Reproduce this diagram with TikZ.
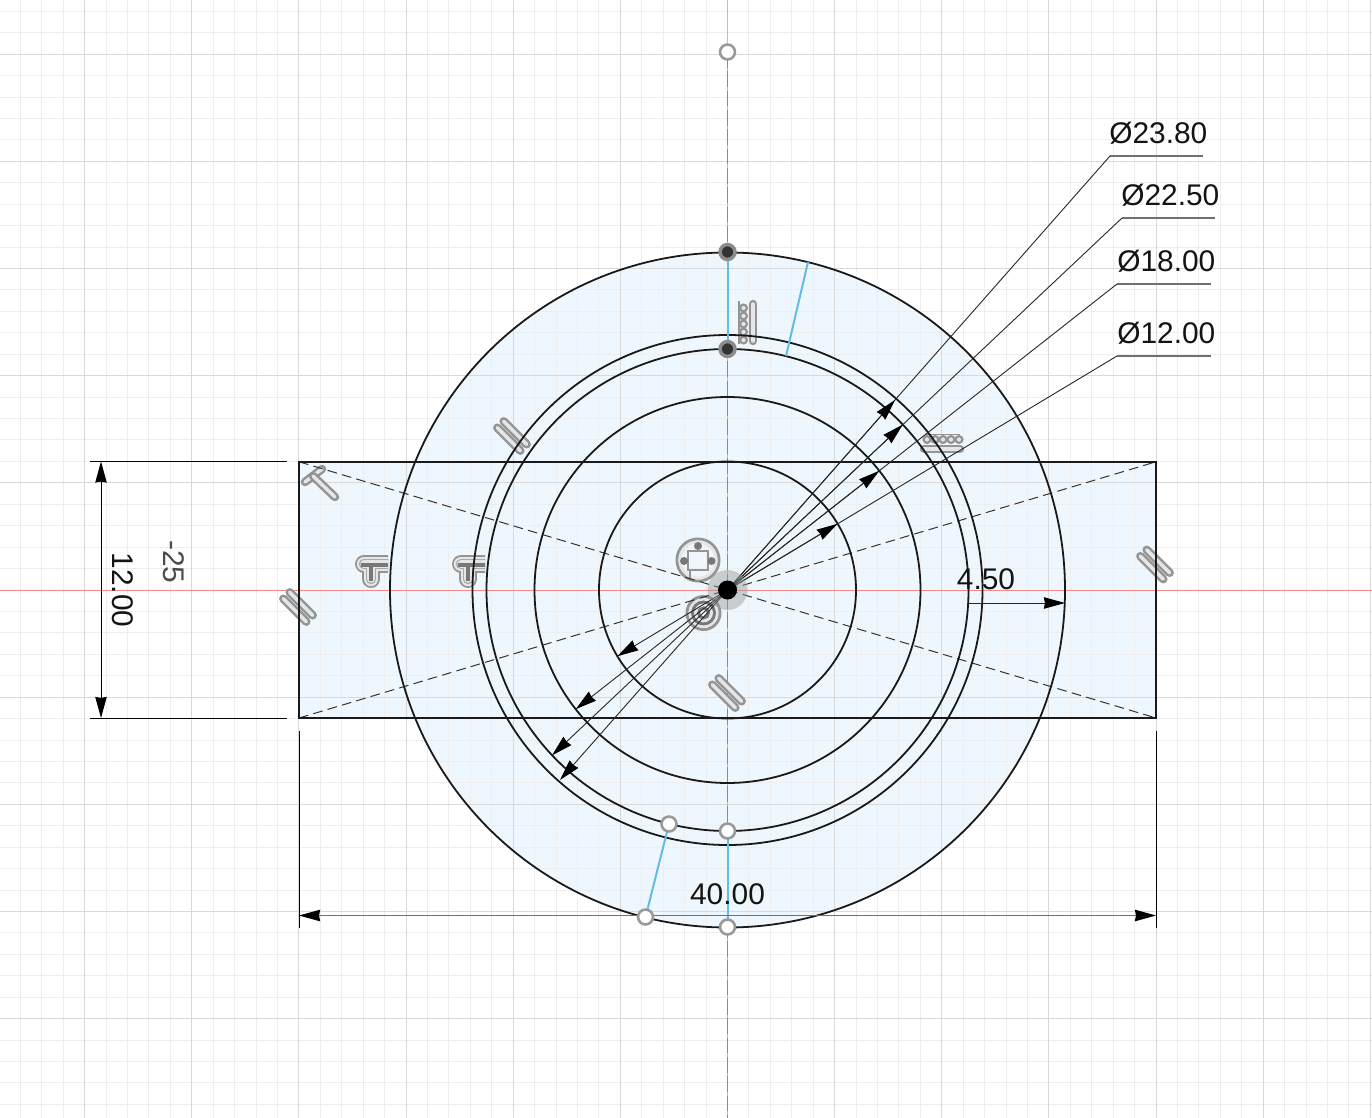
\documentclass[tikz,border=0pt]{standalone}
\usepackage{fontspec}
\setmainfont{Liberation Sans}
\usetikzlibrary{arrows.meta}
\definecolor{sheet}{HTML}{EEF7FD}
\definecolor{gridminor}{HTML}{EEEEEE}
\definecolor{gridmajor}{HTML}{D9D9D9}
\definecolor{axisred}{HTML}{F08A8A}
\definecolor{axisgreen}{HTML}{8FDC9A}
\definecolor{axisbrown}{HTML}{A98A3A}
\definecolor{conblue}{HTML}{62BCE6}
\definecolor{glyphgray}{HTML}{949494}
\definecolor{glyphdark}{HTML}{787878}
\definecolor{glyphlight}{HTML}{E4E6E8}
\definecolor{dimgray}{HTML}{707070}
\tikzset{
  px/.style={line width=#1*0.567pt},
  minorgrid/.style={draw=gridminor,px=1},
  majorgrid/.style={draw=gridmajor,px=1},
  sketch/.style={draw=black!90,px=1.8},
  construct/.style={draw=black!80,px=1,dash pattern=on 5.5pt off 3pt},
  conline/.style={draw=conblue,px=2},
  leader/.style={draw=black!85,px=0.9},
  dimhead/.style={-{Stealth[length=12pt,width=6.5pt,inset=0.6pt,black]}},
  bothhead/.style={{Stealth[length=12pt,width=6.5pt,inset=0.6pt,black]}-{Stealth[length=12pt,width=6.5pt,inset=0.6pt,black]}},
  under/.style={draw=dimgray,px=1.5},
  ext/.style={draw=black,px=1},
  dimtext/.style={font=\fontsize{17}{20}\selectfont,text=black!92,inner sep=0pt},
  gA/.style={draw=glyphgray,px=8.5,line cap=round,line join=round},
  gB/.style={draw=glyphlight,px=3.5,line cap=round,line join=round},
  tA/.style={draw=glyphgray,px=18,line cap=round},
  tB/.style={draw=glyphlight,px=14.5,line cap=round},
  tC/.style={draw=glyphgray!80,px=10.5,line cap=round},
  tD/.style={draw=glyphlight,px=7.5,line cap=round},
  tE/.style={draw=glyphdark,px=4},
  openpt/.style={circle,draw=black!40,px=2.6,fill=white,minimum size=8.5pt,inner sep=0pt},
  darkpt/.style={circle,draw=black!45,px=3.5,fill=black!80,minimum size=8.5pt,inner sep=0pt},
}
\newcommand{\capsule}[1]{\draw[gA] #1; \draw[gB] #1;}
\newcommand{\parglyph}[2]{%
  \capsule{(#1+3.2,#2-3.2) ++(-11.5,-11.5) -- ++(23,23)}%
  \capsule{(#1-3.2,#2+3.2) ++(-11.5,-11.5) -- ++(23,23)}}
\newcommand{\tanglyph}[1]{%
  \begin{scope}
  \clip (#1+350,550) rectangle (#1+388,595);
  \foreach \s in {tA,tB,tC,tD}{
    \draw[\s] (#1+364,564) -- (#1+392,564);
    \draw[\s] (#1+371,564) -- (#1+371,579);
  }
  \draw[tE] (#1+361,565) -- (#1+388,565);
  \draw[tE] (#1+371,565) -- (#1+371,581);
  \end{scope}}
\begin{document}
\begin{tikzpicture}[x=0.02cm,y=-0.02cm]
\useasboundingbox (0,0) rectangle (1372,1118);
\fill[white] (0,0) rectangle (1372,1118);
% sketch profile fill
\coordinate (c) at (727.5,590);
\fill[sheet] (c) circle[radius=337.5];
\fill[sheet] (299,461.8) rectangle (1156,718);
% grid
\foreach \k in {-33,...,30}{\draw[minorgrid] ({727.5+\k*21.43},0) -- ({727.5+\k*21.43},1118);}
\foreach \k in {-27,...,24}{\draw[minorgrid] (0,{590+\k*21.43}) -- (1372,{590+\k*21.43});}
\foreach \k in {-6,-5,-4,-3,-2,-1,1,2,3,4,5,6}{\draw[majorgrid] ({727.5+\k*107.15},0) -- ({727.5+\k*107.15},1118);}
\foreach \k in {-5,-4,-3,-2,-1,1,2,3,4}{\draw[majorgrid] (0,{590+\k*107.15}) -- (1372,{590+\k*107.15});}
% axes
\draw[axisred,px=1] (0,590) -- (1372,590);
\draw[axisgreen,px=1.4] (727.5,0) -- (727.5,1118);
\draw[axisbrown,px=1.3,dash pattern=on 9pt off 2pt] (727.5,52) -- (727.5,1118);
% constraint glyphs
\parglyph{512}{436}
\parglyph{1155}{564.5}
\parglyph{298}{607}
\parglyph{727}{693}
\tanglyph{0}
\tanglyph{97}
% rotated T
\capsule{(305,482) -- (322,469)}
\capsule{(313,476) -- (335,497)}
% vertical comb
\capsule{(753,304) -- (753,341)}
\foreach \yy in {308,316,324,332,340}{\draw[glyphgray,px=2.2,fill=glyphlight] (743.5,\yy) circle[radius=3.4];}
\draw[glyphgray,px=1.5] (739,301) -- (739,344);
% horizontal comb
\capsule{(924,449) -- (960,449)}
\foreach \xx in {927,935,943,951,959}{\draw[glyphgray,px=2.2,fill=glyphlight] (\xx,439.5) circle[radius=3.4];}
\draw[glyphgray,px=1.5] (925,434.5) -- (960,434.5);
% symmetric glyph
\draw[glyphgray,px=3] (698,560) circle[radius=21];
\draw[glyphlight,px=3] (698,560) circle[radius=18.2];
\draw[glyphgray,px=2.6] (688,551) rectangle (708,570);
\draw[glyphgray,px=2.6] (690,570) -- (690,580);
\fill[glyphdark] (698,546) circle[radius=4];
\fill[glyphdark] (684,561) circle[radius=4];
\fill[glyphdark] (711.5,561) circle[radius=4];
% concentric glyph
\draw[glyphgray,px=3] (703.5,613) circle[radius=16.5];
\draw[glyphlight,px=2] (703.5,613) circle[radius=14];
\draw[glyphdark,px=3] (703.5,613) circle[radius=11];
\draw[glyphlight,px=2] (703.5,613) circle[radius=8];
\draw[glyphdark,px=3] (703.5,613) circle[radius=5];
% construction diagonals
\coordinate (tl) at (299,461.8);
\coordinate (tr) at (1156,461.8);
\coordinate (bl) at (299,718);
\coordinate (br) at (1156,718);
\draw[construct] (tl) -- (br);
\draw[construct] (bl) -- (tr);
% sketch outlines
\draw[sketch] (tl) rectangle (br);
\draw[sketch] (c) circle[radius=337.5];
\draw[sketch] (c) circle[radius=255];
\draw[sketch] (c) circle[radius=241];
\draw[sketch] (c) circle[radius=193];
\draw[sketch] (c) circle[radius=128.5];
% symmetry constraint lines
\coordinate (p1) at (727.5,252);
\coordinate (p2) at (727.5,349);
\coordinate (p3) at (808,262);
\coordinate (p4) at (786,356);
\coordinate (p5) at (669,824);
\coordinate (p6) at (645.5,917);
\coordinate (p7) at (727.5,831);
\coordinate (p8) at (727.5,927);
\draw[conline] (p1) -- (p2);
\draw[conline] (p3) -- (p4);
\draw[conline] (p5) -- (p6);
\draw[conline] (p7) -- (p8);
% diameter dimensions
\coordinate (a1) at (1110,156); \coordinate (a2) at (1203,156);
\coordinate (b1) at (1122,218); \coordinate (b2) at (1215,218);
\coordinate (d1) at (1117,284); \coordinate (d2) at (1211,284);
\coordinate (e1) at (1117,356); \coordinate (e2) at (1211,356);
\coordinate (a3) at (895,400);   \coordinate (a4) at (560,780);
\coordinate (b3) at (902.8,424.6); \coordinate (b4) at (552,755.4);
\coordinate (d3) at (879.3,470.8); \coordinate (d4) at (575.7,709.2);
\coordinate (e3) at (837.6,523.8); \coordinate (e4) at (617.4,656.2);
\draw[under] (a1) -- (a2);
\draw[under] (b1) -- (b2);
\draw[under] (d1) -- (d2);
\draw[under] (e1) -- (e2);
\foreach \u/\t/\l in {a1/a3/a4,b1/b3/b4,d1/d3/d4,e1/e3/e4}{
  \draw[leader] (c) -- (\u);
  \draw[leader,dimhead] (c) -- (\t);
  \draw[leader,dimhead] (c) -- (\l);
}
\node[dimtext,anchor=base west] (ta) at (1109,144) {Ø23.80};
\node[dimtext,anchor=base west] (tb) at (1121,206) {Ø22.50};
\node[dimtext,anchor=base west] (td) at (1117,272) {Ø18.00};
\node[dimtext,anchor=base west] (te) at (1117,343) {Ø12.00};
% 4.50
\coordinate (r1) at (968,603);
\coordinate (r2) at (1065,603);
\draw[leader,dimhead] (r1) -- (r2);
\node[dimtext] (t45) at (986,579) {4.50};
% 12.00
\coordinate (v1) at (90,461.5);
\coordinate (v2) at (287,461.5);
\coordinate (v3) at (90,718);
\coordinate (v4) at (287,718);
\coordinate (v5) at (101,461.5);
\coordinate (v6) at (101,718);
\draw[ext] (v1) -- (v2);
\draw[ext] (v3) -- (v4);
\draw[ext,bothhead] (v5) -- (v6);
\node[dimtext,rotate=-90] (t12) at (122.5,590) {12.00};
\node[dimtext,rotate=-90,text=black!70] (t25) at (173.5,562) {-25};
% 40.00
\coordinate (h1) at (299,731);
\coordinate (h2) at (299,928);
\coordinate (h3) at (1156,731);
\coordinate (h4) at (1156,928);
\coordinate (h5) at (299,915.5);
\coordinate (h6) at (1156,915.5);
\draw[ext] (h1) -- (h2);
\draw[ext] (h3) -- (h4);
\draw[draw=dimgray,px=1.5,bothhead] (h5) -- (h6);
\node[dimtext] (t40) at (727.5,894) {40.00};
% points
\node[openpt] (pt0) at (727.5,52) {};
\node[openpt] (pt5) at (p5) {};
\node[openpt] (pt6) at (p6) {};
\node[openpt] (pt7) at (p7) {};
\node[openpt] (pt8) at (p8) {};
\node[darkpt] (pt1) at (p1) {};
\node[darkpt] (pt2) at (p2) {};
% centre point
\fill[black!40,opacity=0.45] (c) circle[radius=20];
\fill[black] (c) circle[radius=9.5];
\end{tikzpicture}
\end{document}
